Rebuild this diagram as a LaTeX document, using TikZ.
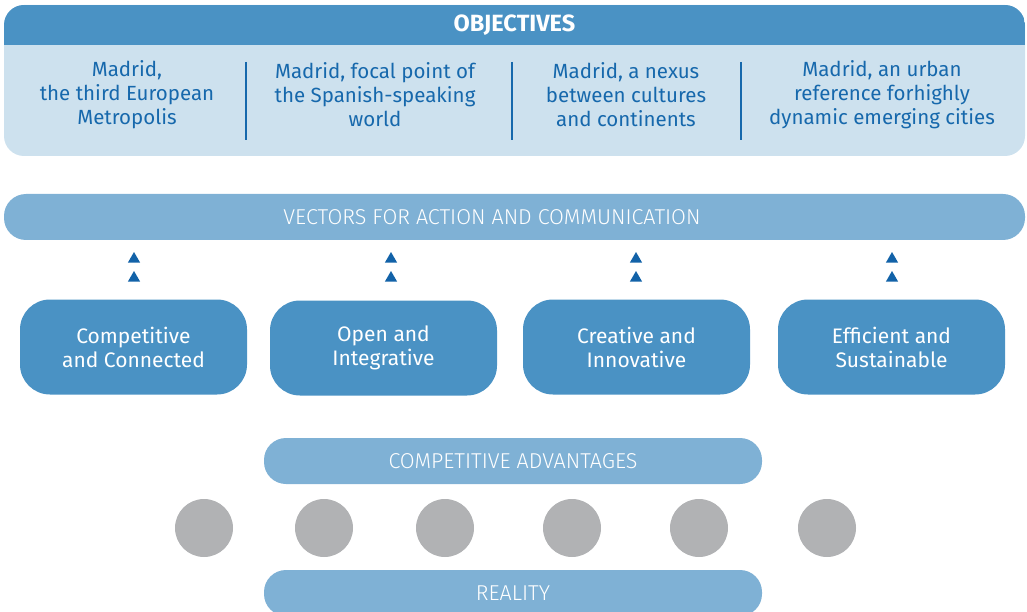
\documentclass[tikz,border=0pt]{standalone}
\usepackage{fontspec}
\setmainfont{Fira Sans}
\newfontfamily\lightfont{Fira Sans Light}
\usepackage{tikz}
\usetikzlibrary{
  calc,
  positioning,
  shapes.geometric,
}
\definecolor{madridblue}{RGB}{74, 146, 196}
\definecolor{panelblue}{RGB}{205, 225, 238}
\definecolor{barblue}{RGB}{127, 177, 213}
\definecolor{inkblue}{RGB}{22, 104, 172}
\definecolor{tipblue}{RGB}{18, 98, 168}
\definecolor{stonegrey}{RGB}{177, 178, 180}
\tikzstyle{goal} = [
  align=center,
  text=inkblue,
  font=\fontsize{20.5}{24}\selectfont,
]
\tikzstyle{pillar} = [
  rounded corners=30pt,
  fill=madridblue,
  text=white,
  minimum width=227pt,
  minimum height=95pt,
  align=center,
  font=\fontsize{21}{24}\selectfont,
]
\tikzstyle{bar} = [
  rounded corners=22pt,
  fill=barblue,
  text=white,
  minimum height=46pt,
  font=\lightfont\fontsize{21.5}{24}\selectfont,
]
\tikzstyle{uptip} = [
  regular polygon,
  regular polygon sides=3,
  fill=tipblue,
  inner sep=0,
  minimum size=14pt,
]
\tikzstyle{stone} = [
  circle,
  fill=stonegrey,
  minimum size=58pt,
  inner sep=0,
]

\begin{document}
\begin{tikzpicture}[x=1pt, y=-1pt]
        \useasboundingbox (0,0) rectangle (1027,612);
        \clip (0,0) rectangle (1027,612);

        %% objectives panel
        \fill [panelblue, rounded corners=20pt] (4,5) rectangle (1025,156);
        \begin{scope}
          \clip [rounded corners=20pt] (4,5) rectangle (1025,156);
          \fill [madridblue] (4,5) rectangle (1025,45);
        \end{scope}
        \node [text=white, font=\bfseries\fontsize{23.5}{26}\selectfont] (objectives) at (514.5,25) {OBJECTIVES};

        \node [goal] (goal1) at (127,95) {Madrid,\\the third European\\Metropolis};
        \node [goal] (goal2) at (375,95) {Madrid, focal point of\\the Spanish-speaking\\world};
        \node [goal] (goal3) at (626,95) {Madrid, a nexus\\between cultures\\and continents};
        \node [goal] (goal4) at (882,95) {Madrid, an urban\\reference forhighly\\dynamic emerging cities};

        \foreach \x in {246, 512, 741} {
          \draw [inkblue, line width=1.5pt] (\x, 62) -- (\x, 140);
        }

        %% vectors
        \node [bar, minimum width=1021pt] (vectors) at (514.5,217) {};
        \node [bar, fill=none] (vectorslabel) at (492,217) {VECTORS FOR ACTION AND COMMUNICATION};

        \node [pillar] (pillar1) at (133.5,347) {Competitive\\and Connected};
        \node [pillar] (pillar2) at (383.5,348) {Open and\\Integrative};
        \node [pillar] (pillar3) at (636.5,347) {Creative and\\Innovative};
        \node [pillar] (pillar4) at (891.5,347) {Efficient and\\Sustainable};

        \foreach \x [count=\i] in {134, 391, 636, 892} {
          \node [uptip] (tip\i a) at (\x, 259) {};
          \node [uptip] (tip\i b) at (\x, 278) {};
        }

        %% advantages and reality
        \node [bar, minimum width=498pt] (advantages) at (513,461) {COMPETITIVE ADVANTAGES};

        \foreach \x [count=\i] in {204, 324, 445, 572, 699, 827} {
          \node [stone] (stone\i) at (\x, 528) {};
        }

        \node [bar, minimum width=498pt] (reality) at (513,593) {REALITY};
      \end{tikzpicture}
\end{document}
